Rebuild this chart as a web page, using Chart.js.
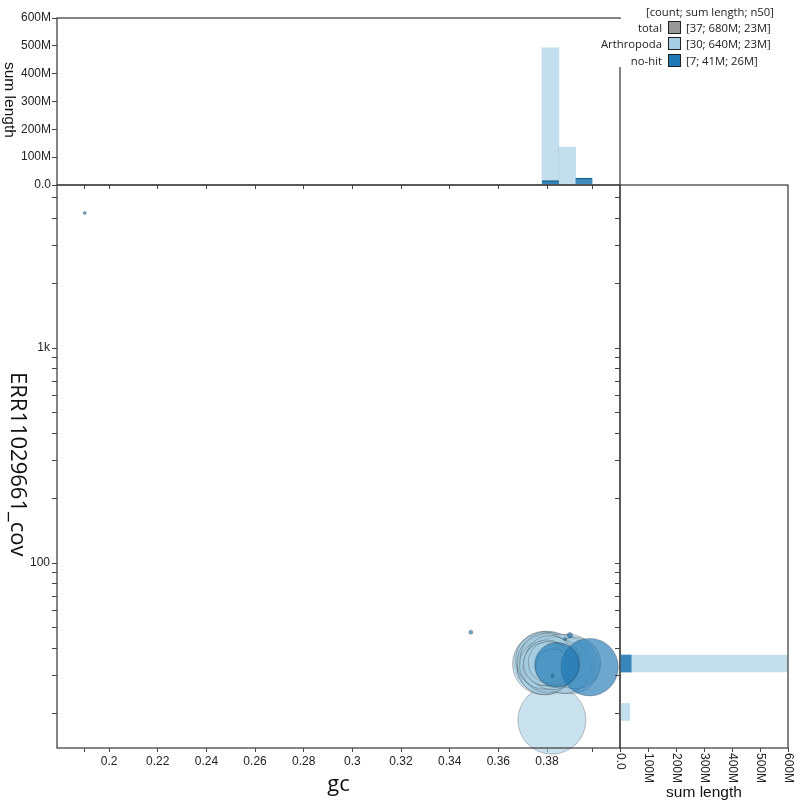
<!DOCTYPE html>
<html>
<head>
<meta charset="utf-8">
<script src="https://cdn.jsdelivr.net/npm/chart.js@4.4.1/dist/chart.umd.min.js"></script>
<style>
body { margin: 0; width: 800px; height: 805px; position: relative; background: #fff; overflow: hidden; font-family: 'Liberation Sans', Arial, sans-serif; }
canvas { position: absolute; }
.vtitle { position: absolute; writing-mode: vertical-rl; white-space: nowrap; color: #111; }
.leg { position: absolute; font-family: 'Open Sans', sans-serif; font-size: 11.3px; line-height: 16px; color: #222; white-space: nowrap; }
.sw { position: absolute; width: 11px; height: 11px; border: 1.5px solid #222; }
</style>
</head>
<body>
<canvas id="top" width="630" height="195" style="left:0;top:0"></canvas>
<canvas id="main" width="630" height="625" style="left:0;top:180px"></canvas>
<canvas id="side" width="186" height="625" style="left:614px;top:180px"></canvas>
<div class="vtitle" style="left:0;top:62px;font-size:15.5px;line-height:20px">sum length</div>
<div class="vtitle" style="left:6px;top:372px;font-family:'Open Sans',sans-serif;font-size:22px;line-height:28px">ERR11029661_cov</div>
<div id="legend"></div>
<script>
// axis ticks
const gcTicks = [0.19, 0.2, 0.22, 0.24, 0.26, 0.28, 0.3, 0.32, 0.34, 0.36, 0.38, 0.3985];
const covTicks = [20, 30, 40, 50, 60, 70, 80, 90, 100, 200, 300, 400, 500, 600, 700, 800, 900, 1000, 2000, 3000, 4000, 5000];
const lenTicks = [0, 100, 200, 300, 400, 500, 600];

// Arthropoda contigs (length in M)
const arthLen = [35, 29, 28, 27, 26, 25, 25, 24, 24, 23, 23, 23, 23, 22, 22, 21, 21, 20, 20, 20, 19, 19, 18, 18, 17, 16, 15, 14, 13, 10];
const arthGc = [0.3820, 0.3791, 0.3783, 0.3804, 0.3865, 0.3795, 0.3812, 0.3886, 0.3787, 0.3902, 0.3800, 0.3816, 0.3791, 0.3853, 0.3808, 0.3873, 0.3785, 0.3915, 0.3824, 0.3795, 0.3804, 0.3832, 0.3787, 0.3812, 0.3820, 0.3800, 0.3837, 0.3791, 0.3808, 0.3828];
const arthCov = [18.6, 34.6, 33.9, 35.0, 33.9, 33.2, 34.3, 34.6, 35.4, 33.2, 33.9, 35.4, 32.8, 35.0, 33.6, 32.8, 34.6, 34.3, 33.9, 35.8, 32.5, 34.6, 33.6, 35.4, 33.2, 34.3, 33.6, 33.9, 34.6, 32.8];

// no-hit contigs
const nohitLen = [25, 15, 0.2, 0.12, 0.07, 0.07, 0.07];
const nohitGc = [0.3975, 0.3841, 0.3894, 0.3487, 0.3874, 0.3823, 0.19];
const nohitCov = [32.8, 33.6, 46.2, 47.7, 44.3, 29.9, 4250];

// histograms, sum length in M
const gcBinArth = [0.3814, 0.3883];
const gcSumArth = [493, 136];
const gcBinNohit = [0.3814, 0.3952];
const gcSumNohit = [16, 25];
const covBinArth = [34.1, 20.3];
const covSumArth = [605, 35];
const covBinNohit = [34.1];
const covSumNohit = [40];

// legend
const legNames = ['total', 'Arthropoda', 'no-hit'];
const legCount = [37, 30, 7];
const legSpan = ['680M', '640M', '41M'];
const legN50 = ['23M', '23M', '26M'];
const legColors = ['#999999', '#a6cee3', '#1f78b4'];

const gcMin = 0.1786, gcMax = 0.41;
const covMin = 13.8, covMax = 5730;
const lenMax = 600;
const rPerSqrtM = 5.75;

const light = 'rgba(166,206,227,0.6)';
const lightBar = 'rgba(166,206,227,0.68)';
const dark = 'rgba(31,120,180,0.65)';
const darkBar = 'rgba(31,120,180,0.85)';
const axisCol = '#444';

Chart.defaults.font.family = "'Liberation Sans', Arial, sans-serif";
Chart.defaults.font.size = 12;
Chart.defaults.color = '#222';

const fmtLen = v => v === 0 ? '0.0' : v + 'M';
const fmtGc = v => Math.abs(v * 50 - Math.round(v * 50)) < 1e-6 ? String(parseFloat(v.toFixed(2))) : '';
const fmtCov = v => v === 100 ? '100' : v === 1000 ? '1k' : '';

const frame = {
    id: 'frame',
    afterDraw(chart) {
        const a = chart.chartArea, c = chart.ctx;
        c.save();
        c.strokeStyle = axisCol;
        c.lineWidth = 1.3;
        c.strokeRect(a.left, a.top, a.right - a.left, a.bottom - a.top);
        c.restore();
    }
};

const rotLabels = {
    id: 'rotLabels',
    afterDraw(chart) {
        const s = chart.scales.x, c = chart.ctx;
        c.save();
        c.font = "12px 'Liberation Sans', Arial";
        c.fillStyle = '#222';
        c.textAlign = 'left';
        c.textBaseline = 'middle';
        s.ticks.forEach((t, i) => {
            c.save();
            c.translate(s.getPixelForTick(i), s.top + 5);
            c.rotate(Math.PI / 2);
            c.fillText(fmtLen(t.value), 0, 0);
            c.restore();
        });
        c.restore();
    }
};

const tickGrid = len => ({ drawOnChartArea: false, tickLength: len, color: axisCol, tickWidth: 1, offset: false });
const noPad = s => { s.paddingTop = 0; s.paddingBottom = 0; s.paddingLeft = 0; s.paddingRight = 0; };
const common = {
    responsive: false,
    animation: false,
    events: [],
    plugins: { legend: { display: false }, tooltip: { enabled: false } }
};

// top histogram: sum length by gc
new Chart(document.getElementById('top'), {
    type: 'bar',
    data: {
        datasets: [
            { data: gcBinNohit.map((g, i) => ({ x: g, y: gcSumNohit[i] })), backgroundColor: darkBar, borderColor: '#17608f', borderWidth: { top: 1 }, order: 0 },
            { data: gcBinArth.map((g, i) => ({ x: g, y: gcSumArth[i] })), backgroundColor: lightBar, order: 1 }
        ]
    },
    options: {
        ...common,
        layout: { autoPadding: false, padding: { top: 18, right: 10, left: 0, bottom: 0 } },
        datasets: { bar: { grouped: false, barThickness: 17 } },
        scales: {
            x: {
                type: 'linear', min: gcMin, max: gcMax, offset: false,
                afterBuildTicks: s => { s.ticks = gcTicks.map(v => ({ value: v })); },
                afterFit: s => { s.height = 10; noPad(s); },
                ticks: { display: false },
                grid: tickGrid(4),
                border: { display: false }
            },
            y: {
                type: 'linear', min: 0, max: lenMax,
                afterBuildTicks: s => { s.ticks = lenTicks.map(v => ({ value: v })); },
                afterFit: s => { s.width = 57; noPad(s); },
                ticks: { callback: fmtLen, padding: 1 },
                grid: tickGrid(5),
                border: { display: false }
            }
        }
    },
    plugins: [frame]
});

// main blob plot
new Chart(document.getElementById('main'), {
    type: 'bubble',
    data: {
        datasets: [
            {
                label: 'no-hit',
                data: nohitGc.map((g, i) => ({ x: g, y: nohitCov[i], r: rPerSqrtM * Math.sqrt(nohitLen[i]) })),
                backgroundColor: dark, borderColor: 'rgba(40,40,40,0.35)', borderWidth: 0.8, clip: false, order: 0
            },
            {
                label: 'Arthropoda',
                data: arthGc.map((g, i) => ({ x: g, y: arthCov[i], r: rPerSqrtM * Math.sqrt(arthLen[i]) })),
                backgroundColor: light, borderColor: 'rgba(40,40,40,0.35)', borderWidth: 0.8, clip: false, order: 1
            }
        ]
    },
    options: {
        ...common,
        layout: { autoPadding: false, padding: { top: 5, right: 10, left: 0, bottom: 0 } },
        scales: {
            x: {
                type: 'linear', min: gcMin, max: gcMax,
                afterBuildTicks: s => { s.ticks = gcTicks.map(v => ({ value: v })); },
                afterFit: s => { s.height = 57; noPad(s); },
                ticks: { callback: fmtGc, autoSkip: false, maxRotation: 0, padding: 2 },
                grid: tickGrid(4),
                border: { display: false },
                title: { display: true, text: 'gc', color: '#111', font: { family: "'Open Sans', sans-serif", size: 22 }, padding: { top: 0, bottom: 7 } }
            },
            y: {
                type: 'logarithmic', min: covMin, max: covMax,
                afterBuildTicks: s => { s.ticks = covTicks.map(v => ({ value: v })); },
                afterFit: s => { s.width = 57; noPad(s); },
                ticks: { callback: fmtCov, autoSkip: false, padding: 2 },
                grid: tickGrid(5),
                border: { display: false }
            }
        }
    },
    plugins: [frame]
});

// side histogram: sum length by coverage
new Chart(document.getElementById('side'), {
    type: 'bar',
    data: {
        datasets: [
            { data: covBinNohit.map((c, i) => ({ y: c, x: covSumNohit[i] })), backgroundColor: darkBar, order: 0 },
            { data: covBinArth.map((c, i) => ({ y: c, x: covSumArth[i] })), backgroundColor: lightBar, order: 1 }
        ]
    },
    options: {
        ...common,
        indexAxis: 'y',
        layout: { autoPadding: false, padding: { top: 5, right: 12, left: 0, bottom: 0 } },
        datasets: { bar: { grouped: false, barThickness: 17 } },
        scales: {
            x: {
                type: 'linear', min: 0, max: lenMax,
                afterBuildTicks: s => { s.ticks = lenTicks.map(v => ({ value: v })); },
                afterFit: s => { s.height = 57; noPad(s); },
                ticks: { display: false },
                grid: tickGrid(4),
                border: { display: false },
                title: { display: true, text: 'sum length', color: '#111', font: { size: 15.5 }, padding: { top: 0, bottom: 3 } }
            },
            y: {
                type: 'logarithmic', min: covMin, max: covMax, offset: false,
                afterBuildTicks: s => { s.ticks = covTicks.map(v => ({ value: v })); },
                afterFit: s => { s.width = 6; noPad(s); },
                ticks: { display: false },
                grid: tickGrid(5),
                border: { display: false }
            }
        }
    },
    plugins: [frame, rotLabels]
});

// legend
const leg = document.getElementById('legend');
let html = '<div style="position:absolute;left:598px;top:19px;width:202px;height:48px;background:#fff"></div>';
html += '<div class="leg" style="right:26px;top:4px">[count; sum length; n50]</div>';
legNames.forEach((n, i) => {
    const cy = 27.5 + i * 16.5;
    html += '<div class="leg" style="right:138px;top:' + (cy - 8) + 'px;text-align:right">' + n + '</div>';
    html += '<div class="sw" style="left:668px;top:' + (cy - 7) + 'px;background:' + legColors[i] + '"></div>';
    html += '<div class="leg" style="left:686px;top:' + (cy - 8) + 'px">[' + legCount[i] + '; ' + legSpan[i] + '; ' + legN50[i] + ']</div>';
});
leg.innerHTML = html;
</script>
</body>
</html>
